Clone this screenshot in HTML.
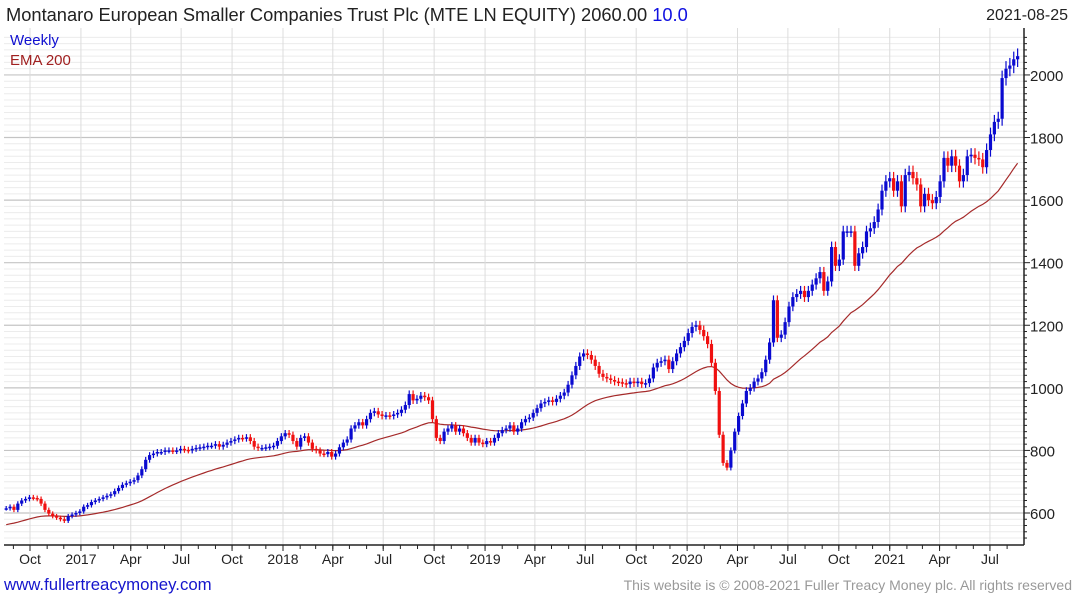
<!DOCTYPE html>
<html><head><meta charset="utf-8"><style>
body{margin:0;background:#fff;}
svg{display:block;font-family:"Liberation Sans",sans-serif;}
</style></head><body>
<svg id="chart" width="1075" height="600" viewBox="0 0 1075 600" xmlns="http://www.w3.org/2000/svg">
<rect x="0" y="0" width="1075" height="600" fill="#fff"/>
<g id="grid"></g>
<g id="ema"></g>
<g id="candles"></g>
<g id="axes"></g>
<text x="6" y="21" font-size="18.3" fill="#222">Montanaro European Smaller Companies Trust Plc (MTE LN EQUITY) 2060.00 <tspan fill="#1010e0">10.0</tspan></text>
<text x="1068" y="20" font-size="16" fill="#222" text-anchor="end">2021-08-25</text>
<text x="10" y="45" font-size="15" fill="#1010d0">Weekly</text>
<text x="10" y="65" font-size="15" fill="#a02020">EMA 200</text>
<text x="4" y="590" font-size="16.8" fill="#1515cc">www.fullertreacymoney.com</text>
<text x="1072" y="590" font-size="14" fill="#999" text-anchor="end">This website is © 2008-2021 Fuller Treacy Money plc. All rights reserved</text>
</svg>
<script>
const closes=[615,620,610,630,640,645,650,648,645,630,610,598,590,585,580,575,590,595,600,605,620,625,635,
640,645,650,655,660,670,680,690,695,700,705,720,740,
770,785,790,795,795,800,800,798,800,805,802,800,805,808,810,812,815,815,820,812,818,825,830,835,840,838,842,
830,812,808,808,810,812,815,830,845,855,850,830,812,840,845,825,805,800,790,788,795,
780,790,810,825,835,870,880,890,880,900,920,925,915,910,912,910,915,920,930,945,980,960,965,975,970,960,
900,840,830,860,870,880,860,870,855,840,825,840,825,820,830,825,
840,855,865,870,880,860,870,890,900,905,920,935,950,955,960,955,965,975,985,1010,1040,1070,1100,1110,
1105,1090,1070,1045,1035,1030,1025,1020,1018,1015,1012,1020,1015,1020,1012,1015,1030,1065,1080,1085,1090,1060,1085,1110,1130,1150,1175,1195,1200,1185,1165,1140,1080,990,850,760,745,800,860,910,950,990,
1000,1020,1030,1050,1090,1145,1280,1160,1170,1210,1260,1290,1300,1310,1290,1310,1330,1350,1370,1310,1340,1450,1390,1410,1500,1500,1500,1390,1430,1450,1500,1510,1530,1570,1630,1660,1670,1630,1660,1580,1680,1690,1670,1650,1580,1620,1600,1590,1610,1660,1735,1710,1740,1710,1660,1680,1740,1745,1735,1730,1705,1760,1810,1850,1860,1990,2020,2030,2050,2060];
const lastDate="2021-08-20";
const emaSeed=560;
const yTicks=[600,800,1000,1200,1400,1600,1800,2000];
const xTickLabels=["Oct","2017","Apr","Jul","Oct","2018","Apr","Jul","Oct","2019","Apr","Jul","Oct","2020","Apr","Jul","Oct","2021","Apr","Jul"];
const xTickDates=["2016-10-01","2017-01-01","2017-04-01","2017-07-01","2017-10-01","2018-01-01","2018-04-01","2018-07-01","2018-10-01","2019-01-01","2019-04-01","2019-07-01","2019-10-01","2020-01-01","2020-04-01","2020-07-01","2020-10-01","2021-01-01","2021-04-01","2021-07-01"];

const NS="http://www.w3.org/2000/svg";
const PL=4,PR=1024,PT=28,PB=545;
const d0=Date.UTC(2016,9,1),DAY=86400000;
function x(t){return 30+(t-d0)/DAY*0.5536;}
function y(p){return 513-(p-600)*0.3129;}
function mk(tag,attrs,parent){const e=document.createElementNS(NS,tag);for(const k in attrs)e.setAttribute(k,attrs[k]);parent.appendChild(e);return e;}
const grid=document.getElementById('grid'),axes=document.getElementById('axes'),cg=document.getElementById('candles'),eg=document.getElementById('ema');
for(let p=520;p<=2120;p+=20){const yy=y(p);if(yy<PT||yy>PB)continue;
 const major=p%200===0;
 const l=mk('line',{x1:PL,x2:PR,y1:yy,y2:yy,stroke:major?'#c4c4c4':'#ececec','stroke-width':major?1.2:1},grid);
 
 
 const tk=mk('line',{x1:PR,x2:PR+(major?6:3),y1:yy,y2:yy,stroke:'#222'},axes);
 
 
}
yTicks.forEach(v=>{const t=mk('text',{x:1030,y:y(v)+6,'font-size':15,fill:'#222'},axes);t.textContent=v;
 
 });
xTickDates.forEach((ds,i)=>{const xx=x(Date.parse(ds));
 const g=mk('line',{x1:xx,x2:xx,y1:PT,y2:PB,stroke:'#dcdcdc'},grid);
 
 
 const tk=mk('line',{x1:xx,x2:xx,y1:PB,y2:PB+6,stroke:'#222'},axes);
 
 
 const t=mk('text',{x:xx,y:PB+19,'font-size':14,fill:'#222','text-anchor':'middle'},axes);t.textContent=xTickLabels[i];
 
 });
for(let m=8;m<=8+60;m++){const t=Date.UTC(2016,m,1);const xx=x(t);if(xx<PL||xx>PR)continue;
 const tk=mk('line',{x1:xx,x2:xx,y1:PB,y2:PB+4,stroke:'#222'},axes);
 
 }
const ax1=mk('line',{x1:PL,x2:PR,y1:PB,y2:PB,stroke:'#222','stroke-width':1.5},axes);


const ax2=mk('line',{x1:PR,x2:PR,y1:PT,y2:PB,stroke:'#222','stroke-width':1.5},axes);


const tEnd=Date.parse(lastDate),n=closes.length;
let ema=emaSeed;const a=2/41;let pts=[];
for(let i=0;i<n;i++){
 const t=tEnd-(n-1-i)*7*DAY,xx=x(t);
 const c=closes[i],o=i>0?closes[i-1]:c;
 ema=ema+a*(c-ema);pts.push(xx.toFixed(1)+','+y(ema).toFixed(1));
 if(xx<PL+2)continue;
 const up=c>=o,col=up?'#0a0ad0':'#f01010';
 const hi=Math.max(o,c)*1.012,lo=Math.min(o,c)*0.988;
 const w=mk('line',{x1:xx,x2:xx,y1:y(hi),y2:y(lo),stroke:col,'stroke-width':1.2},cg);
 
 
 const top=y(Math.max(o,c)),bh=Math.max(1.5,y(Math.min(o,c))-top);
 const b=mk('rect',{x:xx-1.6,y:top,width:3.2,height:bh,fill:col},cg);
 
 
}
const pl=mk('polyline',{points:pts.filter(p=>parseFloat(p)>=PL).join(' '),fill:'none',stroke:'#a52a2a','stroke-width':1.2},eg);


</script>
</body></html>
